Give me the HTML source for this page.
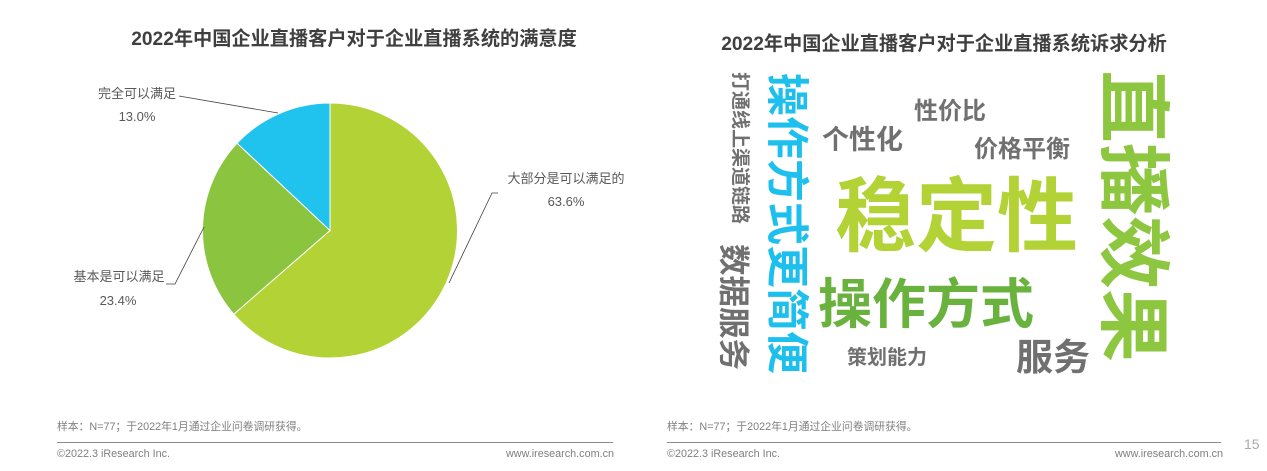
<!DOCTYPE html>
<html>
<head>
<meta charset="utf-8">
<style>
html,body{margin:0;padding:0;background:#fff;}
body{width:1267px;height:471px;position:relative;overflow:hidden;font-family:"Liberation Sans","Noto Sans CJK SC",sans-serif;}
.a{position:absolute;white-space:nowrap;line-height:1;}
.t{font-weight:700;font-size:19.2px;color:#3f3f3f;text-align:center;}
.lb{font-size:13px;color:#595959;text-align:center;width:140px;}
.w{font-family:"Noto Sans CJK SC","WenQuanYi Zen Hei",sans-serif;font-weight:700;}
.g{color:#707070;}
.r{transform:rotate(90deg);transform-origin:0 0;}
.ft{font-size:10.8px;color:#7f7f7f;}
.hl{position:absolute;height:1px;background:#8a8a8a;}
</style>
</head>
<body>
<svg class="a" style="left:0;top:0" width="1267" height="471" viewBox="0 0 1267 471">
  <path d="M330,230.5 L330,103 A127.5,127.5 0 1 1 233.8,314.2 Z" fill="#b2d235" stroke="#fff" stroke-width="1"/>
  <path d="M330,230.5 L233.8,314.2 A127.5,127.5 0 0 1 237.1,143.2 Z" fill="#8bc43f" stroke="#fff" stroke-width="1"/>
  <path d="M330,230.5 L237.1,143.2 A127.5,127.5 0 0 1 330,103 Z" fill="#1fc3ee" stroke="#fff" stroke-width="1"/>
  <polyline points="179,96 278,113" fill="none" stroke="#404040" stroke-width="0.8"/>
  <polyline points="166,284 175,284 204,227" fill="none" stroke="#404040" stroke-width="0.8"/>
  <polyline points="498,193 492,193 449,283" fill="none" stroke="#404040" stroke-width="0.8"/>
</svg>

<!-- titles -->
<div class="a t" style="left:104px;top:30px;width:500px;">2022年中国企业直播客户对于企业直播系统的满意度</div>
<div class="a t" style="left:694px;top:35px;width:500px;">2022年中国企业直播客户对于企业直播系统诉求分析</div>

<!-- pie labels -->
<div class="a lb" style="left:67px;top:87px;">完全可以满足</div>
<div class="a lb" style="left:67px;top:110px;">13.0%</div>
<div class="a lb" style="left:496px;top:172px;">大部分是可以满足的</div>
<div class="a lb" style="left:496px;top:195px;">63.6%</div>
<div class="a lb" style="left:49px;top:270px;">基本是可以满足</div>
<div class="a lb" style="left:48px;top:294px;">23.4%</div>

<!-- word cloud -->
<div class="a w r g" style="left:751px;top:72px;font-size:19px;">打通线上渠道链路</div>
<div class="a w r" style="left:811px;top:73px;font-size:43px;color:#1dc0ed;">操作方式更简便</div>
<div class="a w r g" style="left:751px;top:244px;font-size:31.5px;">数据服务</div>
<div class="a w r" style="left:1175px;top:70px;font-size:73px;color:#8dc63f;">直播效果</div>

<div class="a w g" style="left:914px;top:97px;font-size:24px;">性价比</div>
<div class="a w g" style="left:822px;top:124px;font-size:27px;">个性化</div>
<div class="a w g" style="left:974px;top:135px;font-size:24px;">价格平衡</div>
<div class="a w" style="left:835px;top:170px;font-size:81px;color:#b2d235;">稳定性</div>
<div class="a w" style="left:818px;top:273px;font-size:54px;color:#6ab23e;">操作方式</div>
<div class="a w g" style="left:847px;top:346px;font-size:20px;">策划能力</div>
<div class="a w g" style="left:1016px;top:336px;font-size:37px;">服务</div>

<!-- footer -->
<div class="a ft" style="left:57px;top:422px;">样本：N=77；于2022年1月通过企业问卷调研获得。</div>
<div class="a ft" style="left:667px;top:422px;">样本：N=77；于2022年1月通过企业问卷调研获得。</div>
<div class="hl" style="left:57px;top:442px;width:556px;"></div>
<div class="hl" style="left:667px;top:442px;width:554px;"></div>
<div class="a ft" style="left:57px;top:449px;">©2022.3 iResearch Inc.</div>
<div class="a ft" style="left:667px;top:449px;">©2022.3 iResearch Inc.</div>
<div class="a ft" style="left:414px;top:449px;width:200px;text-align:right;">www.iresearch.com.cn</div>
<div class="a ft" style="left:1023px;top:449px;width:200px;text-align:right;">www.iresearch.com.cn</div>
<div class="a" style="left:1244px;top:437px;font-size:14px;color:#aaaaaa;">15</div>
</body>
</html>
